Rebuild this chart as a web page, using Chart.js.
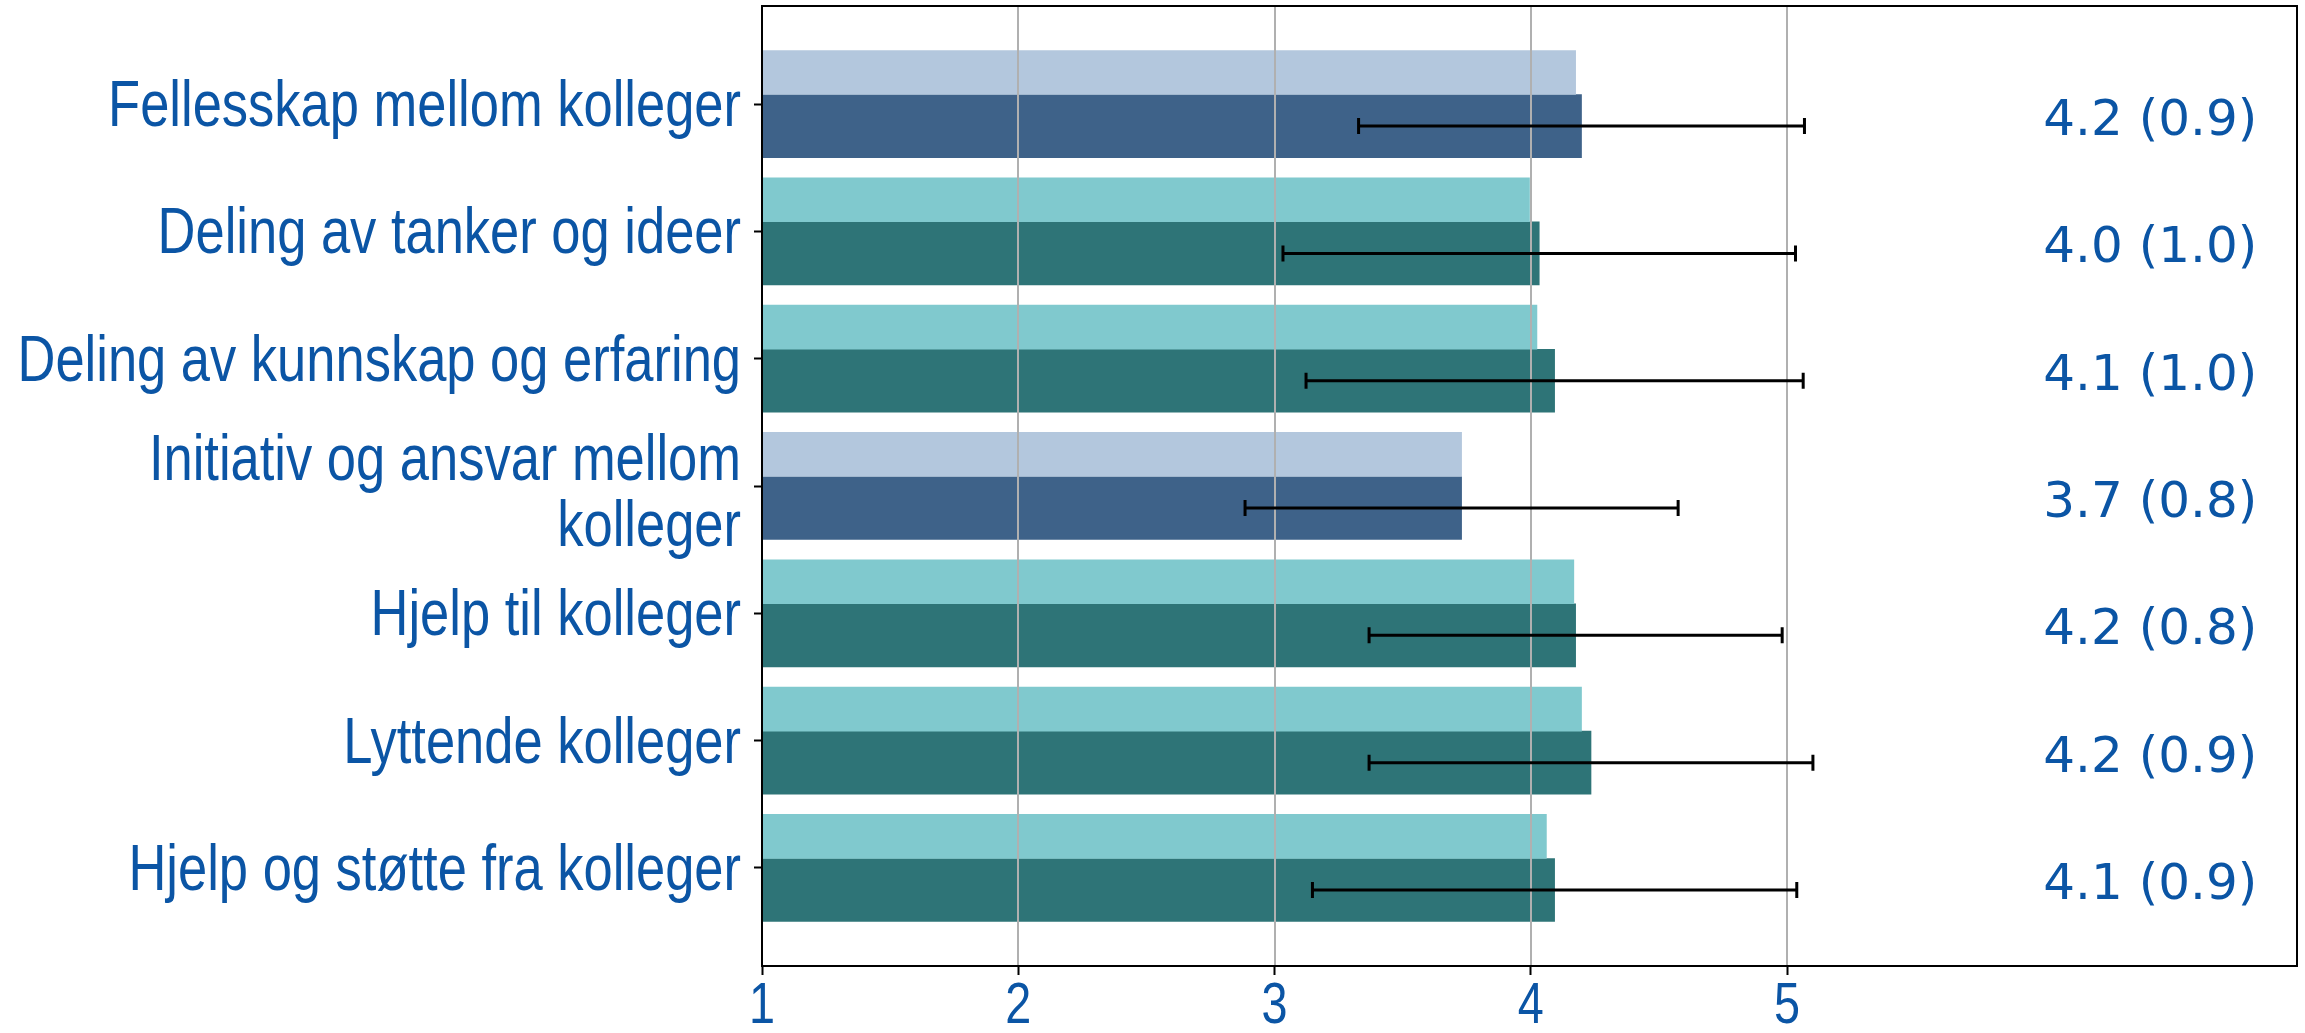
<!DOCTYPE html>
<html>
<head>
<meta charset="utf-8">
<script src="https://cdn.jsdelivr.net/npm/chart.js@4"></script>
<style>
  html, body { margin: 0; padding: 0; background: #fff; }
  #wrap { width: 2305px; height: 1033px; position: relative; }
</style>
</head>
<body>
<div id="wrap"><canvas id="chart"></canvas></div>
<script>
// kategorier (øverst -> nederst)
const categories = [
  'Fellesskap mellom kolleger',
  'Deling av tanker og ideer',
  'Deling av kunnskap og erfaring',
  ['Initiativ og ansvar mellom', 'kolleger'],
  'Hjelp til kolleger',
  'Lyttende kolleger',
  'Hjelp og støtte fra kolleger',
];
// lys stolpe (sammenligning) og mørk stolpe (gjennomsnitt) + standardavvik
const compareMeans = [4.175, 3.995, 4.024, 3.73, 4.168, 4.198, 4.061];
const means = [4.198, 4.033, 4.093, 3.73, 4.175, 4.235, 4.093];
const stdDevs = [0.87, 1.0, 0.97, 0.845, 0.806, 0.866, 0.945];
const themes = ['A', 'B', 'B', 'A', 'B', 'B', 'B'];
const xTicks = [1, 2, 3, 4, 5];

const BLUE = '#0b55a5';
const palette = {
  A: { light: '#b3c7dd', dark: '#3e6289' },
  B: { light: '#80c9ce', dark: '#2e7477' },
};
const LIGHT_SHIFT = -0.248;
const DARK_SHIFT = 0.173;
const Y_MIN = -0.77, Y_MAX = 6.77;
// smal skrift: Liberation Sans klemt sammen horisontalt
const NARROW_FONT = "'Liberation Sans', Arial, sans-serif";
const NARROW = 0.82;

function narrowText(ctx, text, x, y, align) {
  ctx.save();
  ctx.translate(x, y);
  ctx.scale(NARROW, 1);
  ctx.textAlign = align;
  ctx.fillText(text, 0, 0);
  ctx.restore();
}

const overlay = {
  id: 'overlay',
  afterDatasetsDraw(chart) {
    const { ctx, chartArea: a, scales: { x, y } } = chart;
    ctx.save();
    // rutenett over stolpene
    ctx.strokeStyle = '#b0b0b0';
    ctx.lineWidth = 2;
    [2, 3, 4, 5].forEach((v) => {
      const px = Math.round(x.getPixelForValue(v));
      ctx.beginPath();
      ctx.moveTo(px, a.top);
      ctx.lineTo(px, a.bottom);
      ctx.stroke();
    });
    // feilstolper
    const meta = chart.getDatasetMeta(1);
    ctx.strokeStyle = '#000';
    ctx.lineWidth = 3;
    means.forEach((m, i) => {
      const py = meta.data[i].y;
      const x0 = x.getPixelForValue(m - stdDevs[i]);
      const x1 = x.getPixelForValue(m + stdDevs[i]);
      ctx.beginPath();
      ctx.moveTo(x0, py); ctx.lineTo(x1, py);
      ctx.moveTo(x0, py - 8); ctx.lineTo(x0, py + 8);
      ctx.moveTo(x1, py - 8); ctx.lineTo(x1, py + 8);
      ctx.stroke();
    });
    // verdier til høyre
    ctx.fillStyle = BLUE;
    ctx.font = "50px 'DejaVu Sans'";
    ctx.textAlign = 'left';
    ctx.textBaseline = 'middle';
    means.forEach((m, i) => {
      ctx.fillText(`${m.toFixed(1)} (${stdDevs[i].toFixed(1)})`, x.getPixelForValue(6.0), meta.data[i].y - 4);
    });
    // kategorinavn
    ctx.font = `64px ${NARROW_FONT}`;
    ctx.textBaseline = 'alphabetic';
    categories.forEach((lab, i) => {
      const lines = Array.isArray(lab) ? lab : [lab];
      const cy = y.getPixelForValue(i);
      const lh = 66.7;
      const first = cy + 22 - ((lines.length - 1) * lh) / 2 + (lines.length > 1 ? 5 : 0);
      lines.forEach((ln, k) => narrowText(ctx, ln, a.left - 21, first + k * lh, 'right'));
    });
    // x-tall
    ctx.font = `57px ${NARROW_FONT}`;
    xTicks.forEach((v) => narrowText(ctx, String(v), x.getPixelForValue(v), 1023, 'center'));
    // ramme
    ctx.strokeStyle = '#000';
    ctx.lineWidth = 2;
    ctx.strokeRect(a.left, a.top, a.right - a.left, a.bottom - a.top);
    ctx.restore();
  },
};

new Chart(document.getElementById('chart'), {
  type: 'bar',
  data: {
    datasets: [{
      label: 'Sammenligning',
      data: compareMeans.map((v, i) => ({ x: v, y: i + LIGHT_SHIFT })),
      backgroundColor: themes.map((t) => palette[t].light),
      barThickness: 44,
      base: 1,
    }, {
      label: 'Snitt',
      data: means.map((v, i) => ({ x: v, y: i + DARK_SHIFT })),
      backgroundColor: themes.map((t) => palette[t].dark),
      barThickness: 63,
      base: 1,
    }],
  },
  options: {
    indexAxis: 'y',
    responsive: true,
    maintainAspectRatio: false,
    devicePixelRatio: 1,
    animation: false,
    grouped: false,
    layout: { padding: { top: 6, right: 8, left: 0, bottom: 0 } },
    plugins: { legend: { display: false }, tooltip: { enabled: false } },
    scales: {
      x: {
        type: 'linear',
        min: 1, max: 6.99,
        offset: false,
        afterBuildTicks: (axis) => { axis.ticks = xTicks.map((v) => ({ value: v })); },
        afterFit: (axis) => { axis.height = 67; },
        border: { display: false },
        grid: { offset: false, drawOnChartArea: false, drawTicks: true, tickLength: 9, tickWidth: 2, tickColor: '#000' },
        ticks: { display: false },
      },
      y: {
        type: 'linear',
        reverse: true,
        offset: false,
        min: Y_MIN, max: Y_MAX,
        afterDataLimits: (axis) => { axis.min = Y_MIN; axis.max = Y_MAX; },
        afterBuildTicks: (axis) => {
          axis.ticks = categories.map((_, i) => ({ value: i }));
          axis.min = Y_MIN; axis.max = Y_MAX;
        },
        afterFit: (axis) => { axis.width = 762; axis.paddingTop = 0; axis.paddingBottom = 0; },
        border: { display: false },
        grid: { offset: false, drawOnChartArea: false, drawTicks: true, tickLength: 8, tickWidth: 2, tickColor: '#000' },
        ticks: { display: false, autoSkip: false },
      },
    },
  },
  plugins: [overlay],
});
</script>
</body>
</html>
